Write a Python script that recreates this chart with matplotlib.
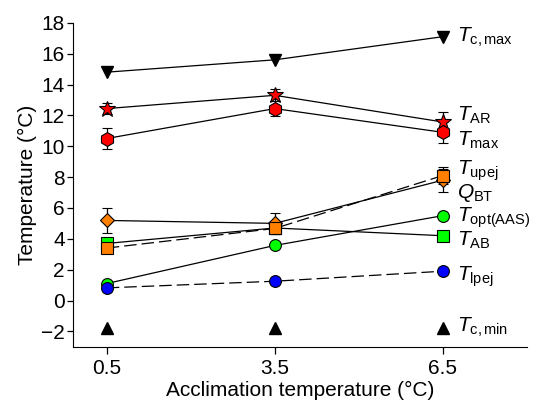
import matplotlib
matplotlib.use("Agg")
import matplotlib.pyplot as plt

plt.rcParams["font.family"] = ["Liberation Sans", "DejaVu Sans"]
plt.rcParams["mathtext.fontset"] = "custom"
plt.rcParams["mathtext.rm"] = "Liberation Sans"
plt.rcParams["mathtext.it"] = "Liberation Sans:italic"

accl = [0.5, 3.5, 6.5]

t_cmax = [14.8, 15.6, 17.1]
t_ar = [12.44, 13.3, 11.57]
t_ar_err = [0.36, 0.4, 0.65]
t_max = [10.5, 12.44, 10.9]
t_max_err = [0.68, 0.5, 0.7]
q_bt = [5.19, 5.0, 7.8]
q_bt_err = [0.8, 0.66, 0.75]
t_ab = [3.7, 4.7, 4.2]
t_upej = [3.4, 4.67, 8.1]
t_upej_err = [0.2, 0.37, 0.55]
t_opt = [1.1, 3.57, 5.5]
t_lpej = [0.82, 1.25, 1.9]
t_cmin = [-1.75, -1.75, -1.75]

labels = [r"$\mathit{T}_{\mathrm{c,max}}$", r"$\mathit{T}_{\mathrm{AR}}$",
          r"$\mathit{T}_{\mathrm{max}}$", r"$\mathit{T}_{\mathrm{upej}}$",
          r"$\mathit{Q}_{\mathrm{BT}}$", r"$\mathit{T}_{\mathrm{opt(AAS)}}$",
          r"$\mathit{T}_{\mathrm{AB}}$", r"$\mathit{T}_{\mathrm{lpej}}$",
          r"$\mathit{T}_{\mathrm{c,min}}$"]
label_y = [17.05, 12.0, 10.4, 8.4, 7.0, 5.35, 3.9, 1.55, -1.75]

fig = plt.figure(figsize=(5.42, 4.0), dpi=100)
ax = fig.add_axes([0.135, 0.133, 0.837, 0.810])

lw = 0.9
err_kw = dict(ecolor="black", elinewidth=0.9, capsize=3.3, capthick=0.9)

ax.plot(accl, t_cmax, "-v", color="black", lw=lw, ms=9, mfc="black", mec="black")
ax.errorbar(accl, t_ar, yerr=t_ar_err, fmt="-*", color="black", lw=lw,
            ms=12, mfc="red", mec="black", mew=0.8, **err_kw)
ax.errorbar(accl, t_max, yerr=t_max_err, fmt="-h", color="black", lw=lw,
            ms=10, mfc="red", mec="black", mew=0.8, **err_kw)
ax.errorbar(accl, q_bt, yerr=q_bt_err, fmt="-D", color="black", lw=lw,
            ms=7.5, mfc="#ff8000", mec="black", mew=0.8, **err_kw)
ax.plot(accl, t_ab, "-s", color="black", lw=lw, ms=8, mfc="#00ff00",
        mec="black", mew=0.8)
ax.errorbar(accl, t_upej, yerr=t_upej_err, fmt="s", ms=8, mfc="#ff8000",
            mec="black", mew=0.8, **err_kw)
ax.plot(accl, t_upej, color="black", lw=lw, dashes=(10, 4), zorder=1.9)
ax.plot(accl, t_opt, "-o", color="black", lw=lw, ms=8.5, mfc="#00ff00",
        mec="black", mew=0.8)
ax.plot(accl, t_lpej, "o", ms=8.5, mfc="#0000ff", mec="black", mew=0.8)
ax.plot(accl, t_lpej, color="black", lw=lw, dashes=(10, 4), zorder=1.9)
ax.plot(accl, t_cmin, "^", ms=9, mfc="black", mec="black", ls="none")

for lab, ly in zip(labels, label_y):
    ax.text(6.75, ly, lab, fontsize=15, ha="left", va="center", clip_on=False)

ax.set_xlim(-0.1, 8.0)
ax.set_ylim(-3, 18)
ax.set_xticks(accl)
ax.set_xticklabels(["0.5", "3.5", "6.5"])
ax.set_yticks(range(-2, 19, 2))
ax.set_yticklabels(["\u22122"] + [str(v) for v in range(0, 19, 2)])
ax.tick_params(axis="both", labelsize=15, direction="out", width=0.9)
ax.tick_params(axis="y", length=4, pad=2)
ax.tick_params(axis="x", length=5, pad=4)
for s in ["top", "right"]:
    ax.spines[s].set_visible(False)
ax.spines["left"].set_bounds(-3, 18)
ax.set_xlabel("Acclimation temperature (\u00b0C)", fontsize=15, labelpad=2)
ax.set_ylabel("Temperature (\u00b0C)", fontsize=15, labelpad=3)

fig.savefig("out.png", dpi=100)
